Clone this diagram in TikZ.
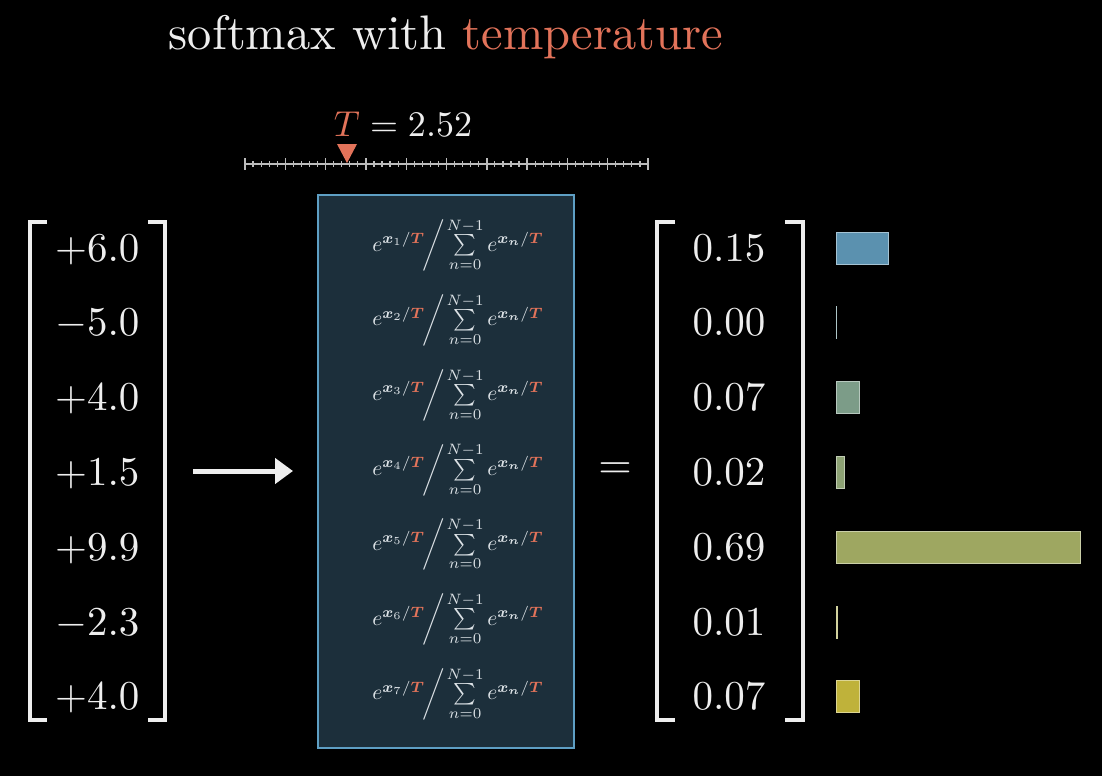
\documentclass[tikz,border=0pt]{standalone}
\usepackage{amsmath,amssymb,bm}
\usetikzlibrary{arrows.meta}
\definecolor{tempred}{HTML}{E2735A}
\definecolor{boxfill}{HTML}{1C2F3B}
\definecolor{boxline}{HTML}{5E9FC4}
\definecolor{ink}{HTML}{EEEEEE}
\definecolor{formink}{HTML}{DCE2E6}
\definecolor{rulerink}{HTML}{BBBBBB}
\definecolor{barblue}{HTML}{5B91AF}
\definecolor{baryellow}{HTML}{BFB23A}
\newcommand{\Temp}{\textcolor{tempred}{\bm{T}}}
\newcommand{\entrytext}[1]{\scalebox{4.1}{#1}}
\tikzset{
  bracket/.style={draw=ink,line width=4pt,line join=miter},
  entry/.style={text=ink,inner sep=0pt},
  formula/.style={text=formink,inner sep=0pt}
}

\begin{document}
\begin{tikzpicture}[x=1pt,y=-1pt]
  \fill[black] (0,0) rectangle (1102,776);
  \useasboundingbox (0,0) rectangle (1102,776);
  \node[text=ink,anchor=base,inner sep=0pt] (title) at (446,50)
    {\scalebox{4.85}{softmax with \textcolor{tempred}{temperature}}};
  \node[text=ink,anchor=base,inner sep=0pt] (tlabel) at (403,136)
    {\scalebox{3.6}{$\textcolor{tempred}{T} = 2.52$}};
  \draw[rulerink,line width=2pt] (245,164) -- (648,164);
  \foreach \k in {0,...,50}{
    \draw[rulerink,line width=1.2pt] ({245+8.06*\k},161) -- ++(0,6);
  }
  \foreach \k in {0,...,10}{
    \draw[rulerink,line width=1.4pt] ({245+40.3*\k},158) -- ++(0,12);
  }
  \fill[tempred] (337,144) -- (357,144) -- (347,163) -- cycle;
  \node[draw=boxline,fill=boxfill,line width=1.5pt,minimum width=256pt,
    minimum height=553pt,inner sep=0pt] (softbox) at (446,471.5) {};
  \draw[bracket] (47,222) -- (30,222) -- (30,720) -- (47,720);
  \draw[bracket] (148,222) -- (165,222) -- (165,720) -- (148,720);
  \draw[bracket] (675,222) -- (657,222) -- (657,720) -- (675,720);
  \draw[bracket] (785,222) -- (803,222) -- (803,720) -- (785,720);
  \foreach \i/\xv/\pv/\c in {1/+6.0/0.1465/0,2/-5.0/0.0019/17,3/+4.0/0.0663/33,
    4/+1.5/0.0246/50,5/+9.9/0.6890/67,6/-2.3/0.0054/83,7/+4.0/0.0663/100}{
      \pgfmathsetmacro{\yy}{248+74.8*(\i-1)}
      \node[entry,anchor=base west] (in\i) at (55,\yy+13) {\entrytext{$\xv$}};
      \node[formula,anchor=base] (sm\i) at (458,\yy+3)
        {\scalebox{2.15}{$e^{\bm{x}_{\i}/\Temp}\mkern-2mu\bigg/\mkern-2mu
          \sum\limits_{n=0}^{N-1}e^{\bm{x}_{\bm{n}}/\Temp}$}};
      \node[entry,anchor=base] (out\i) at (729,\yy+13)
        {\entrytext{$\pgfmathprintnumber[fixed,fixed zerofill,precision=2]{\pv}$}};
      \draw[draw=baryellow!\c!barblue!55!white,fill=baryellow!\c!barblue,line width=1pt]
        (836,\yy-16) rectangle ({836+355*\pv},\yy+16);
  }
  \coordinate (arrowtail) at (193,471);
  \coordinate (arrowtip) at (293,471);
  \draw[ink,line width=5pt,-{Triangle[length=18pt,width=25pt]}] (arrowtail) -- (arrowtip);
  \node[entry] (equals) at (615,471) {\scalebox{4.3}{$=$}};
\end{tikzpicture}
\end{document}
